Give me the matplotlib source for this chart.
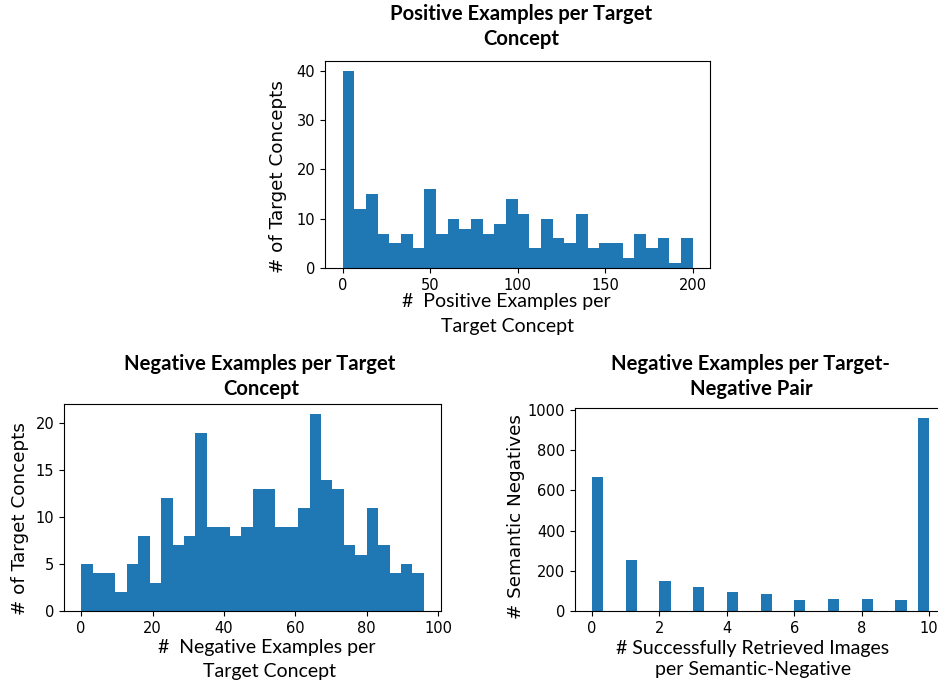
import numpy as np
import matplotlib
matplotlib.use("Agg")
import matplotlib.pyplot as plt

# counts, 30 bins each
pos_edges = np.linspace(0, 200, 31)
pos_counts = [40, 12, 15, 7, 5, 7, 4, 16, 7, 10, 8, 10, 7, 9, 14,
              11, 4, 10, 6, 5, 11, 4, 5, 5, 2, 7, 4, 6, 1, 6]

neg_edges = np.linspace(0, 96, 31)
neg_counts = [5, 4, 4, 2, 5, 8, 3, 12, 7, 8, 19, 9, 9, 8, 9,
              13, 13, 9, 9, 11, 21, 14, 13, 7, 6, 11, 7, 4, 5, 4]

pair_edges = np.linspace(0, 10, 31)
pair_values = [0, 1, 2, 3, 4, 5, 6, 7, 8, 9, 10]
pair_counts = [668, 255, 151, 121, 96, 86, 56, 61, 61, 56, 962]

W, H = 938, 683
BLUE = '#1f77b4'
TITLE_FONT = 'Lato'
LABEL_FONT = 'Lato'

plt.rcParams['font.family'] = ['DejaVu Sans']

fig = plt.figure(figsize=(W / 100, H / 100), dpi=100)


def box(left, top, right, bottom):
    # pixel box -> figure fraction
    return [left / W, 1 - bottom / H, (right - left) / W, (bottom - top) / H]


def ftext(x, y, s, **kw):
    fig.text(x / W, 1 - y / H, s, **kw)


ax1 = fig.add_axes(box(325, 61, 710, 268))
ax2 = fig.add_axes(box(64, 404, 441, 611))
ax3 = fig.add_axes(box(575, 408, 946, 611))

ax1.hist(pos_edges[:-1], bins=pos_edges, weights=pos_counts, color=BLUE)
ax2.hist(neg_edges[:-1], bins=neg_edges, weights=neg_counts, color=BLUE)
ax3.hist(pair_values, bins=pair_edges, weights=pair_counts, color=BLUE)

for ax in (ax1, ax2, ax3):
    ax.tick_params(labelsize=10.5)
    for lab in ax.get_xticklabels() + ax.get_yticklabels():
        lab.set_family('DejaVu Sans')

# titles
tkw = dict(ha='center', va='baseline', fontsize=14.6, fontweight='bold', family=TITLE_FONT)
ftext(521, 20, 'Positive Examples per Target', **tkw)
ftext(521, 45, 'Concept', **tkw)
ftext(260, 370, 'Negative Examples per Target', **tkw)
ftext(261, 395, 'Concept', **tkw)
ftext(750, 370, 'Negative Examples per Target-', **tkw)
ftext(751, 395, 'Negative Pair', **tkw)

# x labels
lkw = dict(ha='center', va='baseline', fontsize=14, family=LABEL_FONT)
ftext(506, 307, '#  Positive Examples per', **lkw)
ftext(507, 332, 'Target Concept', **lkw)
ftext(267, 653, '#  Negative Examples per', **lkw)
ftext(269, 677, 'Target Concept', **lkw)
ftext(753, 654, '# Successfully Retrieved Images', **lkw)
ftext(753, 675, 'per Semantic-Negative', **lkw)

# y labels
ykw = dict(ha='center', va='center', rotation=90, fontsize=13.2, family='DejaVu Sans')
ftext(278, 177, '# of Target Concepts', **ykw)
ftext(20, 519, '# of Target Concepts', **ykw)
ftext(516, 517, '# Semantic Negatives', **ykw)

fig.savefig('out.png', dpi=100)
